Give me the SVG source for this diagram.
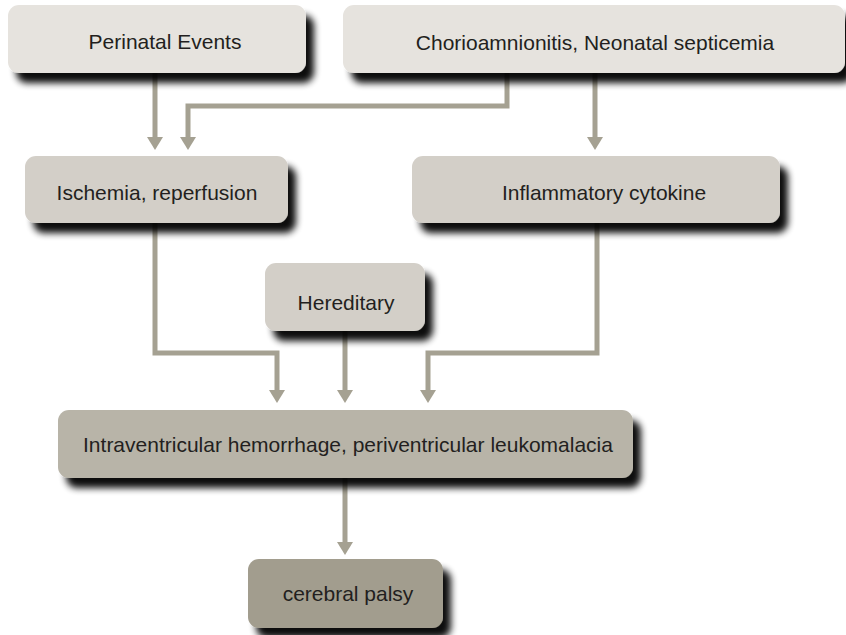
<svg xmlns="http://www.w3.org/2000/svg" width="846" height="635" viewBox="0 0 846 635">
<style>
  .t { font-family: "Liberation Sans", Arial, sans-serif; font-size: 21px; fill: #231f20; text-anchor: middle; }
  .c { fill: none; stroke: #a5a192; stroke-width: 5; marker-end: url(#ah); }
  .b { filter: url(#sh); }
  .l1 { fill: #e6e3de; }
  .l2 { fill: #d3cfc8; }
  .l3 { fill: #b8b4a8; }
  .l4 { fill: #a29d8e; }
</style>
<defs>
  <filter id="sh" x="-10%" y="-20%" width="125%" height="170%">
    <feGaussianBlur in="SourceAlpha" stdDeviation="3.5"/>
    <feOffset dx="8" dy="10" result="o"/>
    <feComponentTransfer><feFuncA type="linear" slope="0.95"/></feComponentTransfer>
    <feMerge><feMergeNode/><feMergeNode in="SourceGraphic"/></feMerge>
  </filter>
  <marker id="ah" viewBox="0 0 13 16" refX="0" refY="8" markerWidth="13" markerHeight="16" markerUnits="userSpaceOnUse" orient="auto">
    <path d="M0,0 L13,8 L0,16 z" fill="#a5a192"/>
  </marker>
</defs>
<rect width="846" height="635" fill="#ffffff"/>
<g id="connectors">
  <path class="c" d="M155,73 V137"/>
  <path class="c" d="M507,73 V106 H188 V137"/>
  <path class="c" d="M595,73 V137"/>
  <path class="c" d="M155,223 V353 H277 V390"/>
  <path class="c" d="M345,331 V390"/>
  <path class="c" d="M597,223 V353 H428 V390"/>
  <path class="c" d="M345,478 V542"/>
</g>
<g id="perinatal">
  <rect class="b l1" x="8" y="5" width="298" height="68" rx="11"/>
  <text class="t" x="165" y="49">Perinatal Events</text>
</g>
<g id="chorio">
  <rect class="b l1" x="343" y="5" width="502" height="68" rx="11"/>
  <text class="t" x="595" y="50">Chorioamnionitis, Neonatal septicemia</text>
</g>
<g id="ischemia">
  <rect class="b l2" x="25" y="156" width="263" height="67" rx="11"/>
  <text class="t" x="157" y="200">Ischemia, reperfusion</text>
</g>
<g id="inflammatory">
  <rect class="b l2" x="412" y="156" width="368" height="67" rx="11"/>
  <text class="t" x="604" y="200">Inflammatory cytokine</text>
</g>
<g id="hereditary">
  <rect class="b l2" x="265" y="263" width="160" height="68" rx="11"/>
  <text class="t" x="346" y="310">Hereditary</text>
</g>
<g id="ivh">
  <rect class="b l3" x="58" y="410" width="575" height="68" rx="11"/>
  <text class="t" x="348" y="452">Intraventricular hemorrhage, periventricular leukomalacia</text>
</g>
<g id="cp">
  <rect class="b l4" x="248" y="559" width="195" height="69" rx="11"/>
  <text class="t" x="348" y="601">cerebral palsy</text>
</g>
</svg>
